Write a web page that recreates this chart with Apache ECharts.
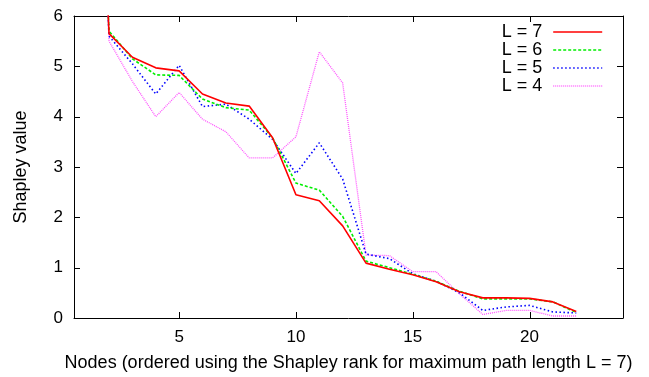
<!DOCTYPE html>
<html>
<head>
<meta charset="utf-8">
<script src="https://cdn.jsdelivr.net/npm/echarts@6/dist/echarts.min.js"></script>
<style>html,body{margin:0;padding:0;background:#fff}#c{width:649px;height:377px}</style>
</head>
<body>
<div id="c"></div>
<script>
var nodes = [1,2,3,4,5,6,7,8,9,10,11,12,13,14,15,16,17,18,19,20,21,22];
var L7 = [16,5.65,5.18,4.97,4.91,4.45,4.27,4.21,3.58,2.45,2.33,1.83,1.09,0.97,0.86,0.72,0.52,0.40,0.40,0.39,0.32,0.13];
var L6 = [16,5.70,5.15,4.83,4.82,4.35,4.18,4.13,3.58,2.68,2.54,2.02,1.13,1.00,0.87,0.73,0.53,0.38,0.38,0.38,0.32,0.11];
var L5 = [16,5.60,5.05,4.45,5.02,4.20,4.25,3.95,3.55,2.87,3.48,2.76,1.27,1.18,0.88,0.73,0.50,0.15,0.22,0.25,0.12,0.10];
var L4 = [16,5.50,4.70,4.00,4.48,3.95,3.70,3.18,3.18,3.60,5.29,4.67,1.25,1.24,0.92,0.92,0.48,0.07,0.15,0.15,0.04,0.04];
var seriesNames = ['L = 7','L = 6','L = 5','L = 4'];
var xTicks = [5,10,15,20];
var yTicks = [0,1,2,3,4,5,6];

function pairs(v){ return nodes.map(function(n,i){ return [n, v[i]]; }); }
var FONT = 'Liberation Sans, Arial, Helvetica, sans-serif';
var chart = echarts.init(document.getElementById('c'), null, {renderer:'canvas'});
var styles = [
  {color:'#ff0000', type:'solid', width:1.6},
  {color:'#00ee00', type:[3,2], width:1.6},
  {color:'#0000ff', type:[1.5,2.5], width:1.6},
  {color:'#ff55ff', type:[1,1], width:1.3}
];
var data = [L7,L6,L5,L4];
var TICK = 6;
var X_MIN = 0.5, X_MAX = 24, Y_MIN = 0, Y_MAX = 6;
function lineAxis(extra){
  var o = {
    type:'value', show:true,
    axisLine:{show:true, onZero:false, lineStyle:{color:'#000', width:1}},
    axisTick:{show:false}, splitLine:{show:false}
  };
  for (var k in extra) o[k] = extra[k];
  return o;
}
var xr = {min:X_MIN, max:X_MAX, splitNumber:5};
var yr = {min:Y_MIN, max:Y_MAX, interval:1};
function mix(a,b){ var o={}; for (var k in a) o[k]=a[k]; for (var j in b) o[j]=b[j]; return o; }

var series = data.map(function(v,i){
  return {
    name:seriesNames[i], type:'line', data:pairs(v),
    xAxisIndex:0, yAxisIndex:0,
    symbol:'none', showSymbol:false, clip:true,
    lineStyle:styles[i], itemStyle:{color:styles[i].color},
    z: 10 - i
  };
});
series.push({type:'line', data:[], xAxisIndex:1, yAxisIndex:1, symbol:'none', silent:true});

// inward tick marks on all four sides, placed through the axis scales
function tickLine(x1,y1,x2,y2){
  return {type:'line', shape:{x1:x1,y1:y1,x2:x2,y2:y2},
          style:{stroke:'#000', lineWidth:1}};
}
series.push({
  type:'custom', silent:true, xAxisIndex:0, yAxisIndex:0, z:20, clip:false,
  data: xTicks.map(function(v){ return [v, Y_MIN]; }),
  renderItem:function(params, api){
    var v = api.value(0);
    var b = api.coord([v, Y_MIN]), t = api.coord([v, Y_MAX]);
    var bx = Math.round(b[0]) + 0.5;
    return {type:'group', children:[
      tickLine(bx, b[1], bx, b[1]-TICK),
      tickLine(bx, t[1], bx, t[1]+TICK)
    ]};
  }
});
series.push({
  type:'custom', silent:true, xAxisIndex:0, yAxisIndex:0, z:20, clip:false,
  data: yTicks.map(function(v){ return [X_MIN, v]; }),
  renderItem:function(params, api){
    var v = api.value(1);
    var l = api.coord([X_MIN, v]), r = api.coord([X_MAX, v]);
    var ly = Math.round(l[1]) + 0.5;
    return {type:'group', children:[
      tickLine(l[0], ly, l[0]+TICK, ly),
      tickLine(r[0], ly, r[0]-TICK, ly)
    ]};
  }
});

var legendData = seriesNames.map(function(n,i){
  return {name:n, itemStyle:{color:styles[i].color, opacity:0},
          lineStyle:{color:styles[i].color, type:styles[i].type, width:styles[i].width, opacity:1}};
});
chart.setOption({
  animation:false,
  backgroundColor:'#fff',
  textStyle:{fontFamily:FONT},
  grid:{left:74, right:26, top:16, bottom:59, containLabel:false},
  legend:{
    orient:'vertical', right:41, top:18, align:'right',
    itemWidth:49, itemHeight:14, itemGap:0,
    textStyle:{fontSize:18, lineHeight:18, color:'#000', fontFamily:FONT, padding:[0,6,0,0]},
    data:legendData
  },
  xAxis:[
    lineAxis(mix(xr, {
      position:'bottom',
      name:'Nodes (ordered using the Shapley rank for maximum path length L = 7)',
      nameLocation:'middle', nameGap:36,
      nameTextStyle:{fontSize:18, color:'#000', fontFamily:FONT},
      axisLabel:{fontSize:17, color:'#000', margin:11, fontFamily:FONT,
        formatter:function(v){ return xTicks.indexOf(v)>=0 ? String(v) : ''; }}
    })),
    lineAxis(mix(xr, {position:'top', axisLabel:{show:false}}))
  ],
  yAxis:[
    lineAxis(mix(yr, {
      position:'left',
      name:'Shapley value', nameLocation:'middle', nameGap:44,
      nameTextStyle:{fontSize:18, color:'#000', fontFamily:FONT},
      axisLabel:{fontSize:17, color:'#000', margin:11, fontFamily:FONT,
        formatter:function(v){ return yTicks.indexOf(v)>=0 ? String(v) : ''; }}
    })),
    lineAxis(mix(yr, {position:'right', axisLabel:{show:false}}))
  ],
  series: series
});
</script>
</body>
</html>
